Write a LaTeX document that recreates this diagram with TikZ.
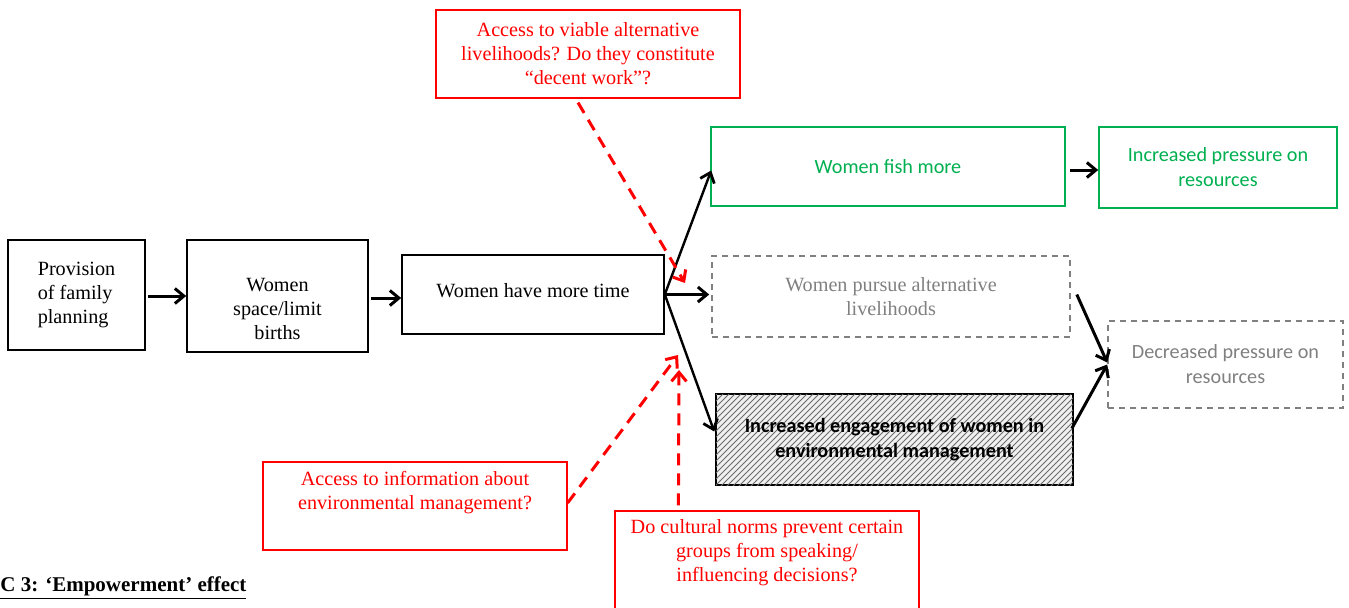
\documentclass[tikz,border=0pt]{standalone}
\usepackage{fontspec}
\setmainfont{Liberation Serif}
\newfontfamily\tnr{Liberation Serif}
\newfontfamily\calibri{Carlito}
\usetikzlibrary{arrows.meta,patterns,calc}
\definecolor{offgreen}{RGB}{0,176,80}
\definecolor{lgray}{RGB}{128,128,128}
\definecolor{myred}{RGB}{255,0,0}
\tikzset{
  base/.style={rectangle, inner sep=2pt, align=center, font=\tnr\fontsize{10.1}{12}\selectfont},
  blackbox/.style={base, draw=black, line width=0.8pt},
  greenbox/.style={base, draw=offgreen, line width=0.8pt, text=offgreen, font=\calibri\fontsize{10.1}{12.5}\selectfont},
  graybox/.style={base, draw=lgray, line width=0.8pt, dash pattern=on 3pt off 2.5pt, text=lgray},
  graycal/.style={graybox, font=\calibri\fontsize{10.1}{12.5}\selectfont},
  hatchbox/.style={base, draw=black, line width=0.8pt, fill=gray!12, postaction={pattern=north east lines, pattern color=gray!85!black}, font=\calibri\bfseries\fontsize{10.1}{12.5}\selectfont},
  redbox/.style={base, draw=myred, line width=0.6pt, text=myred},
  flow/.style={line width=1.5pt, -{Straight Barb[length=4.5pt,width=7.5pt,line width=1.5pt]}},
  thinflow/.style={line width=1.2pt, -{Straight Barb[length=4.5pt,width=7.5pt,line width=1.4pt]}},
  redflow/.style={myred, line width=1.5pt, dash pattern=on 6pt off 4pt, -{Straight Barb[length=4.5pt,width=7.5pt,line width=1.5pt]}},
}
\begin{document}
\begin{tikzpicture}[x=0.5pt,y=-0.5pt]
\useasboundingbox (0,0) rectangle (1349,607);
\clip (0,0) rectangle (1349,607);
% main chain
\node[blackbox, minimum width=68.5pt, minimum height=55pt, align=left] (b1) at (76.5,295) {Provision\\of family\\planning};
\node[blackbox, minimum width=90.5pt, minimum height=56pt] (b2) at (277.5,296) {\rule{0pt}{20pt}Women\\space/limit\\births};
\node[blackbox, minimum width=131pt, minimum height=39.5pt] (b3) at (533,294.5) {Women have more time\\[-7.5pt]\mbox{}};
% outcomes
\node[greenbox, minimum width=177pt, minimum height=39.5pt] (fish) at (888,166.5) {Women fish more};
\node[greenbox, minimum width=119pt, minimum height=40.5pt] (incp) at (1218,167.5) {Increased pressure on\\resources};
\node[graybox, minimum width=179pt, minimum height=40.5pt] (alt) at (891,296.5) {Women pursue alternative\\livelihoods};
\node[graycal, minimum width=117.5pt, minimum height=43.5pt] (dec) at (1225.5,364.5) {Decreased pressure on\\resources};
\node[hatchbox, minimum width=178.5pt, minimum height=45.5pt] (eng) at (894.5,439.5) {Increased engagement of women in\\environmental management};
% red question boxes
\node[redbox, minimum width=152pt, minimum height=44pt] (rtop) at (588,54) {Access to viable alternative\\livelihoods? Do they constitute\\\textquotedblleft decent work\textquotedblright?};
\node[redbox, minimum width=152pt, minimum height=44pt] (rleft) at (415,506) {Access to information about\\environmental management?\\\strut};
\node[redbox, minimum width=152pt, minimum height=55pt] (rbot) at (767,566) {Do cultural norms prevent certain\\groups from speaking/\\influencing decisions?\\\strut};
% caption
\node[anchor=base west, inner sep=0pt, font=\tnr\bfseries\fontsize{10.5}{12}\selectfont] (cap) at (0,591) {\underline{C 3: \textquoteleft Empowerment\textquoteright\ effect}};
% black connectors
\draw[flow] ($(b1.east)+(2,1)$) -- (b2.west);
\draw[flow] ($(b2.east)+(2,2)$) -- ($(b3.west)+(0,3.5)$);
\draw[thinflow] (b3.east) -- ($(fish.west)+(1,4)$);
\draw[flow] (b3.east) -- ($(alt.west)+(-2,-2)$);
\draw[thinflow] (b3.east) -- ($(eng.west)+(-1,-8)$);
\draw[flow] ($(fish.east)+(4,3.5)$) -- ($(incp.west)+(0,2.5)$);
\draw[flow] ($(alt.east)+(6,-2)$) -- ($(dec.west)+(0,-2)$);
\draw[flow] ($(eng.east)+(-2,-11)$) -- ($(dec.west)+(0,0)$);
% red dashed connectors
\coordinate (t1) at (685,283);
\coordinate (t2) at (678,355);
\coordinate (t3) at (679,370);
\draw[redflow] ($(rtop.south)+(-10,4)$) -- (t1);
\draw[redflow] ($(rleft.east)+(0,-3)$) -- (t2);
\draw[redflow] ($(rbot.north west)+(64,-5)$) -- (t3);
\end{tikzpicture}
\end{document}
